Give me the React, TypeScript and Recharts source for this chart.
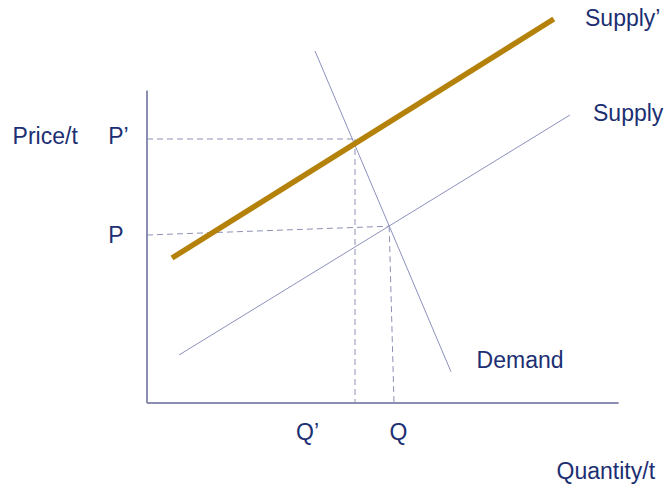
import React from 'react';
import { LineChart, Line, XAxis, YAxis, ReferenceLine, ReferenceDot } from 'recharts';

// quantity / price in chart units (origin at the axes corner)
const supplyNew = [
  { q: 0.625, p: 3.625 },
  { q: 10.17, p: 9.6 },
];
const supplyOld = [
  { q: 0.8, p: 1.2 },
  { q: 10.575, p: 7.2 },
];
const demand = [
  { q: 4.2, p: 8.8 },
  { q: 7.6, p: 0.78 },
];

// equilibrium guides
const priceNew = 6.6;
const qtyNew = 5.2;
const priceOldAxis = 4.2;
const equilibriumOld = { q: 6.054, p: 4.42 };
const qtyOldAxis = 6.175;

const axisTop = 7.81;
const axisRight = 11.79;

// text labels (start x, baseline y)
const labels = [
  { text: 'Price/t', q: -3.36, p: 6.475 },
  { text: 'P\u2019', q: -0.97, p: 6.475 },
  { text: 'P', q: -0.97, p: 4.0 },
  { text: 'Q\u2019', q: 3.725, p: -0.925 },
  { text: 'Q', q: 6.06, p: -0.925 },
  { text: 'Demand', q: 8.24, p: 0.88 },
  { text: 'Quantity/t', q: 10.24, p: -1.9 },
  { text: 'Supply\u2019', q: 10.95, p: 9.425 },
  { text: 'Supply', q: 11.15, p: 7.06 },
];

const TEXT = '#1c2f72';
const THIN = '#8c91bb';
const AXIS = '#8a8fb2';
const DASH = '#8d92b5';
const GOLD = '#b4820b';
const FONT = '"Liberation Sans", Arial, sans-serif';

const TextLabel = (text: string) => (props: any) => {
  const vb = props.viewBox || {};
  return (
    <text x={vb.x} y={vb.y} fill={TEXT} fontSize={23} fontFamily={FONT} textAnchor="start">
      {text}
    </text>
  );
};

export default function App() {
  return (
    <div style={{ width: 667, height: 489, background: '#fff' }}>
      <style>{`body{margin:0}`}</style>
      <LineChart width={667} height={489} margin={{ top: 3, right: 40, bottom: 86, left: 147 }}>
        <XAxis type="number" dataKey="q" domain={[0, 12]} hide allowDataOverflow />
        <YAxis type="number" dataKey="p" domain={[0, 10]} hide allowDataOverflow />

        {/* axes */}
        <ReferenceLine segment={[{ x: 0, y: 0 }, { x: 0, y: axisTop }]} stroke={AXIS} strokeWidth={2} ifOverflow="visible" />
        <ReferenceLine segment={[{ x: 0, y: 0 }, { x: axisRight, y: 0 }]} stroke={AXIS} strokeWidth={2} ifOverflow="visible" />

        {/* dashed guides */}
        <ReferenceLine segment={[{ x: 0, y: priceNew }, { x: qtyNew, y: priceNew }]} stroke={DASH} strokeDasharray="6 4" ifOverflow="visible" />
        <ReferenceLine segment={[{ x: qtyNew, y: priceNew }, { x: qtyNew, y: 0 }]} stroke={DASH} strokeDasharray="6 4" ifOverflow="visible" />
        <ReferenceLine segment={[{ x: 0, y: priceOldAxis }, { x: equilibriumOld.q, y: equilibriumOld.p }]} stroke={DASH} strokeDasharray="6 4" ifOverflow="visible" />
        <ReferenceLine segment={[{ x: equilibriumOld.q, y: equilibriumOld.p }, { x: qtyOldAxis, y: 0 }]} stroke={DASH} strokeDasharray="6 4" ifOverflow="visible" />

        <Line data={supplyOld} dataKey="p" stroke={THIN} strokeWidth={1} dot={false} isAnimationActive={false} />
        <Line data={demand} dataKey="p" stroke={THIN} strokeWidth={1} dot={false} isAnimationActive={false} />
        <Line data={supplyNew} dataKey="p" stroke={GOLD} strokeWidth={5.5} dot={false} isAnimationActive={false} />

        {labels.map((l) => (
          <ReferenceDot
            key={l.text}
            x={l.q}
            y={l.p}
            r={0}
            fill="none"
            stroke="none"
            ifOverflow="visible"
            label={TextLabel(l.text)}
          />
        ))}
      </LineChart>
    </div>
  );
}
